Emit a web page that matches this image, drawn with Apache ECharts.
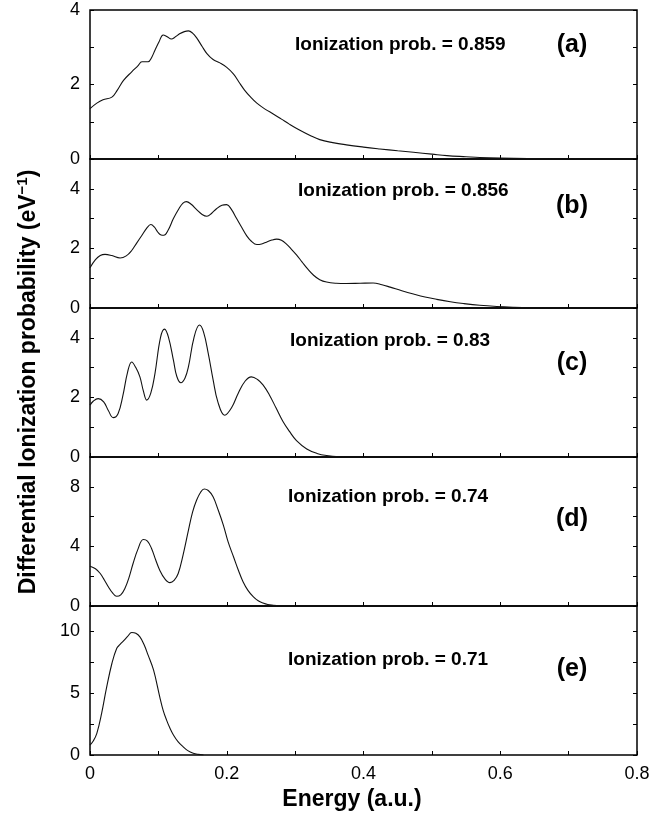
<!DOCTYPE html>
<html><head><meta charset="utf-8">
<script src="https://cdn.jsdelivr.net/npm/echarts@6/dist/echarts.min.js"></script>
<style>html,body{margin:0;padding:0;background:#fff}#c{width:649px;height:816px}</style>
</head><body><div id="c"></div><script>
// ---- data ----
const energyA = [0, 0.010, 0.019, 0.032, 0.040, 0.049, 0.061, 0.070, 0.076, 0.085, 0.090, 0.095, 0.101, 0.107, 0.113, 0.119, 0.125, 0.131, 0.138, 0.144, 0.150, 0.156, 0.164, 0.171, 0.180, 0.190, 0.200, 0.210, 0.218, 0.226, 0.235, 0.244, 0.256, 0.268, 0.280, 0.292, 0.307, 0.322, 0.336, 0.355, 0.375, 0.400, 0.424, 0.450, 0.473, 0.500, 0.522, 0.550, 0.570, 0.600, 0.640, 0.680, 0.730];
const probA   = [1.35, 1.50, 1.59, 1.66, 1.85, 2.11, 2.34, 2.50, 2.61, 2.61, 2.72, 2.92, 3.15, 3.33, 3.28, 3.22, 3.28, 3.36, 3.42, 3.44, 3.38, 3.25, 3.02, 2.83, 2.67, 2.58, 2.46, 2.28, 2.06, 1.85, 1.66, 1.50, 1.34, 1.21, 1.07, 0.93, 0.77, 0.63, 0.52, 0.44, 0.38, 0.32, 0.27, 0.22, 0.18, 0.13, 0.09, 0.06, 0.04, 0.025, 0.015, 0.008, 0.0];

const energyB = [0, 0.008, 0.015, 0.022, 0.032, 0.044, 0.053, 0.061, 0.068, 0.076, 0.083, 0.089, 0.094, 0.099, 0.104, 0.108, 0.114, 0.122, 0.130, 0.136, 0.141, 0.148, 0.156, 0.164, 0.171, 0.178, 0.185, 0.193, 0.200, 0.207, 0.214, 0.222, 0.229, 0.236, 0.244, 0.251, 0.258, 0.266, 0.273, 0.280, 0.287, 0.295, 0.302, 0.310, 0.318, 0.327, 0.336, 0.346, 0.360, 0.375, 0.395, 0.414, 0.427, 0.439, 0.456, 0.473, 0.490, 0.507, 0.527, 0.546, 0.570, 0.595, 0.620, 0.644, 0.680];
const probB   = [1.35, 1.62, 1.76, 1.80, 1.76, 1.68, 1.75, 1.93, 2.17, 2.44, 2.68, 2.80, 2.72, 2.55, 2.45, 2.44, 2.60, 3.00, 3.33, 3.52, 3.57, 3.48, 3.30, 3.14, 3.08, 3.18, 3.33, 3.45, 3.47, 3.30, 3.02, 2.70, 2.43, 2.24, 2.13, 2.15, 2.21, 2.28, 2.31, 2.27, 2.15, 1.96, 1.78, 1.55, 1.32, 1.10, 0.95, 0.87, 0.83, 0.82, 0.83, 0.84, 0.78, 0.70, 0.58, 0.47, 0.37, 0.29, 0.21, 0.15, 0.09, 0.05, 0.025, 0.01, 0.0];

const energyC = [0, 0.005, 0.012, 0.020, 0.027, 0.034, 0.041, 0.048, 0.055, 0.061, 0.067, 0.073, 0.078, 0.083, 0.089, 0.095, 0.103, 0.109, 0.115, 0.122, 0.127, 0.133, 0.139, 0.144, 0.152, 0.160, 0.166, 0.173, 0.180, 0.187, 0.197, 0.207, 0.217, 0.227, 0.236, 0.245, 0.253, 0.262, 0.272, 0.282, 0.292, 0.302, 0.317, 0.332, 0.346, 0.365, 0.385];
const probC   = [1.74, 1.88, 1.96, 1.85, 1.55, 1.32, 1.45, 2.05, 2.85, 3.19, 3.00, 2.69, 2.22, 1.91, 2.15, 2.80, 4.00, 4.29, 4.00, 3.25, 2.70, 2.49, 2.65, 3.03, 4.00, 4.43, 4.20, 3.47, 2.60, 1.85, 1.40, 1.65, 2.15, 2.55, 2.69, 2.60, 2.42, 2.10, 1.65, 1.20, 0.85, 0.55, 0.27, 0.12, 0.05, 0.01, 0.0];

const energyD = [0, 0.008, 0.015, 0.021, 0.027, 0.033, 0.039, 0.045, 0.051, 0.057, 0.063, 0.070, 0.078, 0.084, 0.090, 0.096, 0.102, 0.109, 0.117, 0.123, 0.129, 0.136, 0.144, 0.150, 0.156, 0.162, 0.167, 0.173, 0.180, 0.187, 0.195, 0.202, 0.210, 0.217, 0.224, 0.231, 0.239, 0.246, 0.253, 0.260, 0.268, 0.280];
const probD   = [2.67, 2.50, 2.18, 1.75, 1.28, 0.88, 0.65, 0.75, 1.17, 1.90, 2.85, 3.80, 4.46, 4.35, 3.86, 3.10, 2.40, 1.85, 1.57, 1.72, 2.18, 3.40, 5.09, 6.30, 7.11, 7.65, 7.85, 7.75, 7.33, 6.50, 5.43, 4.30, 3.29, 2.40, 1.61, 1.05, 0.61, 0.35, 0.20, 0.10, 0.05, 0.0];

const energyE = [0, 0.005, 0.010, 0.017, 0.024, 0.032, 0.039, 0.044, 0.049, 0.055, 0.061, 0.067, 0.073, 0.079, 0.085, 0.093, 0.102, 0.107, 0.112, 0.117, 0.122, 0.129, 0.136, 0.143, 0.151, 0.158, 0.166];
const probE   = [0.80, 1.15, 1.74, 3.35, 5.36, 7.37, 8.58, 8.90, 9.19, 9.55, 9.86, 9.80, 9.51, 8.90, 8.04, 6.83, 4.69, 3.60, 2.81, 2.15, 1.61, 1.05, 0.67, 0.35, 0.14, 0.05, 0.0];

const panelLabels = ['(a)', '(b)', '(c)', '(d)', '(e)'];
const ionLabels = ['Ionization prob. = 0.859', 'Ionization prob. = 0.856', 'Ionization prob. = 0.83', 'Ionization prob. = 0.74', 'Ionization prob. = 0.71'];
const yMax = [4, 5, 5, 10, 12];
const yTickStep = [1, 1, 1, 2, 2.5];
const yLabelStep = [2, 2, 2, 4, 5];
const xTickLabels = ['0', '0.2', '0.4', '0.6', '0.8'];
const xTitle = 'Energy (a.u.)';
const yTitle = 'Differential Ionization probability (eV';

// ---- chart ----
const energies = [energyA, energyB, energyC, energyD, energyE];
const probs = [probA, probB, probC, probD, probE];
const FONT = 'Liberation Sans, Arial, Helvetica, sans-serif';
const chart = echarts.init(document.getElementById('c'), null, {renderer: 'canvas'});

const grids = [], xAxes = [], yAxes = [], series = [];
const top0 = 10, ph = 149;
for (let i = 0; i < 5; i++) {
  grids.push({left: 90, width: 547, top: top0 + i * ph, height: ph, show: true,
    borderColor: '#000', borderWidth: 1.5, backgroundColor: 'transparent', containLabel: false,
    outerBoundsMode: 'none'});
  xAxes.push({type: 'value', gridIndex: i, min: 0, max: 0.8, interval: 0.1,
    axisLine: {show: false}, splitLine: {show: false},
    axisTick: {show: true, inside: true, length: 4, lineStyle: {color: '#000', width: 1}},
    axisLabel: {show: i === 4, margin: 10, color: '#000', fontSize: 18, fontFamily: FONT,
      showMinLabel: true, showMaxLabel: true, hideOverlap: false,
      formatter: v => { const k = Math.round(v * 10); return k % 2 === 0 ? xTickLabels[k / 2] : ''; }}
  });
  const step = yLabelStep[i];
  const common = {type: 'value', gridIndex: i, min: 0, max: yMax[i], interval: yTickStep[i],
    axisLine: {show: false}, splitLine: {show: false},
    axisTick: {show: true, inside: true, length: 4, lineStyle: {color: '#000', width: 1}}};
  yAxes.push(Object.assign({}, common, {position: 'left',
    axisLabel: {show: true, margin: 10, color: '#000', fontSize: 18, fontFamily: FONT,
      showMinLabel: true, showMaxLabel: true, hideOverlap: false,
      formatter: v => { const r = v / step; return Math.abs(r - Math.round(r)) < 1e-6 ? String(v) : ''; }}}));
  yAxes.push(Object.assign({}, common, {position: 'right', axisLabel: {show: false}}));
  series.push({type: 'line', xAxisIndex: i, yAxisIndex: 2 * i, showSymbol: false, smooth: 0.4,
    lineStyle: {color: '#111', width: 1.1}, silent: true,
    data: energies[i].map((e, j) => [e, probs[i][j]])});
}

const ionPos = [[295, 45], [298, 191], [290, 341], [288, 497], [288, 660]];
const labPos = [[572, 45], [572, 206], [572, 363], [572, 519], [572, 669]];
const graphics = [];
for (let i = 0; i < 5; i++) {
  graphics.push({type: 'text', x: ionPos[i][0], y: ionPos[i][1], silent: true,
    style: {text: ionLabels[i], fill: '#000', font: 'bold 19px ' + FONT, textAlign: 'left', textVerticalAlign: 'middle'}});
  graphics.push({type: 'text', x: labPos[i][0], y: labPos[i][1], silent: true,
    style: {text: panelLabels[i], fill: '#000', font: 'bold 25px ' + FONT, textAlign: 'center', textVerticalAlign: 'middle'}});
}
graphics.push({type: 'text', x: 352, y: 800, silent: true,
  style: {text: xTitle, fill: '#000', font: 'bold 23px ' + FONT, textAlign: 'center', textVerticalAlign: 'middle'}});
graphics.push({type: 'text', x: 27, y: 382, rotation: Math.PI / 2, silent: true,
  style: {text: '{b|' + yTitle + '}{s|−1}{b|)}', textAlign: 'center', textVerticalAlign: 'middle',
    rich: {b: {fill: '#000', fontSize: 23, fontWeight: 'bold', fontFamily: FONT, verticalAlign: 'bottom', lineHeight: 26},
           s: {fill: '#000', fontSize: 15, fontWeight: 'bold', fontFamily: FONT, verticalAlign: 'bottom', lineHeight: 26, padding: [0, 0, 10, 0]}}}});

chart.setOption({animation: false, backgroundColor: '#fff', grid: grids, xAxis: xAxes, yAxis: yAxes, series: series, graphic: graphics});
</script></body></html>
